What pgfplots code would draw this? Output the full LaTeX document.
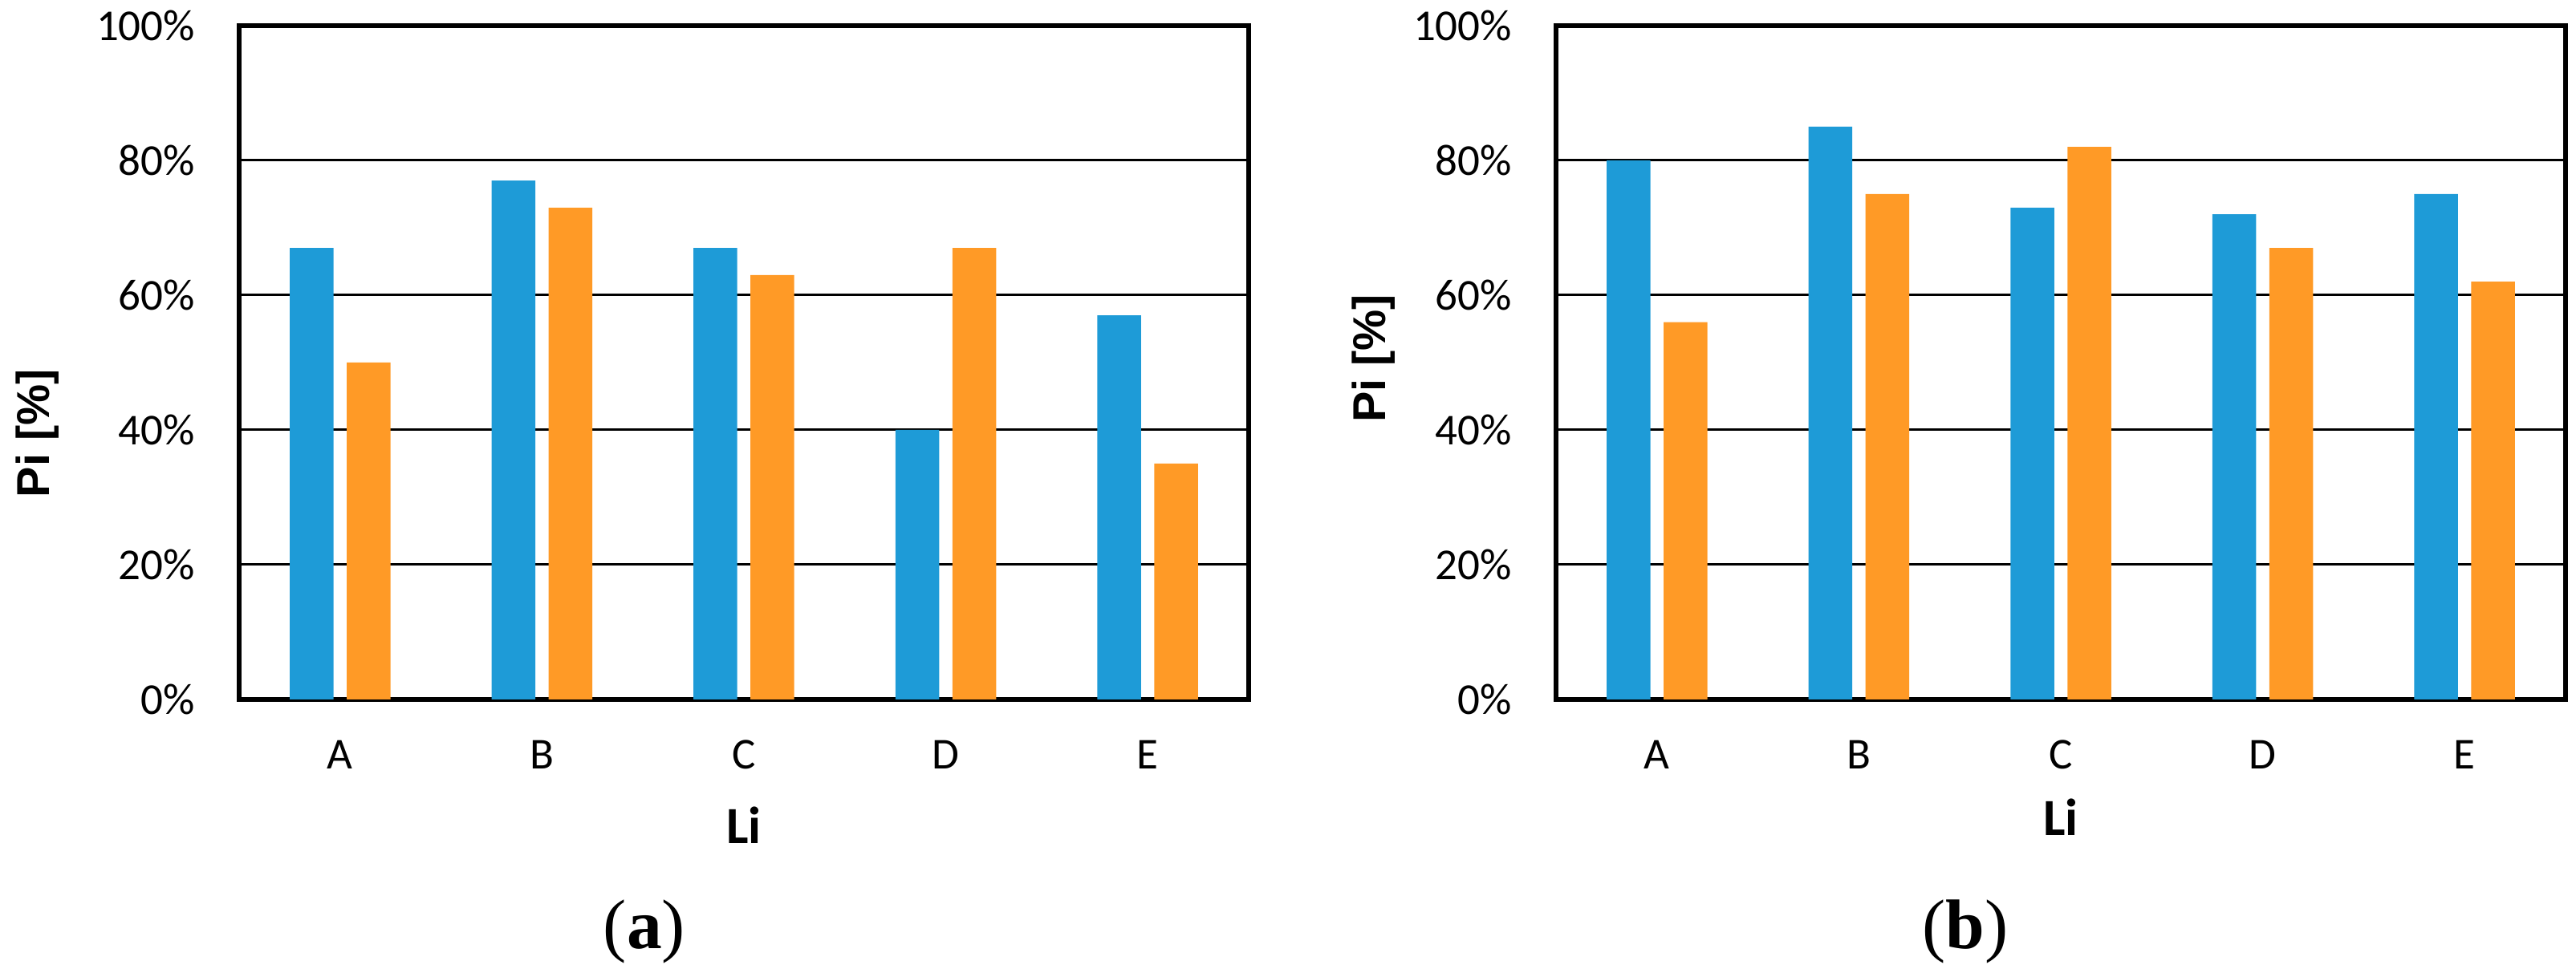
\documentclass[border=0pt]{standalone}
\usepackage{fontspec}
\setmainfont{Carlito}
\newfontfamily\arialfont{Liberation Sans}
\newfontfamily\timesfont{Liberation Serif}
\usepackage{pgfplots}
\pgfplotsset{compat=1.18}

\definecolor{barblue}{RGB}{30,155,215}
\definecolor{barorange}{RGB}{255,154,38}

\pgfplotsset{
  panel/.style={
    scale only axis, width=251.6pt, height=168pt,
    ymin=0, ymax=100, xmin=-0.5, xmax=4.5,
    ytick={0,20,...,100}, yticklabels={0\%,20\%,40\%,60\%,80\%,100\%},
    xtick={0,...,4}, xticklabels={A,B,C,D,E},
    major tick length=0pt,
    ymajorgrids, grid style={black, line width=0.6pt},
    axis line style={black, line width=1.2pt},
    tick label style={font=\fontsize{11}{13}\selectfont, inner sep=0pt},
    yticklabel style={anchor=east, xshift=-10.8pt},
    xticklabel style={anchor=base, yshift=-17.4pt},
    xlabel={Li},
    xlabel style={font=\fontsize{13}{15}\selectfont\bfseries, anchor=base, inner sep=0pt},
    ylabel={Pi [\%]},
    ylabel style={font=\arialfont\fontsize{11.5}{13}\selectfont\bfseries, anchor=center, inner sep=0pt},
  },
  bluebars/.style={ybar, bar width=10.9pt, bar shift=-7.1pt, fill=barblue, draw=none},
  orangebars/.style={ybar, bar width=10.9pt, bar shift=7.1pt, fill=barorange, draw=none},
}

\begin{document}
\begin{tikzpicture}
\useasboundingbox (0,0) rectangle (642pt,242.6pt);

% (a)
\begin{axis}[panel, at={(59.6pt,68.2pt)}, anchor=south west,
    xlabel style={at={([yshift=-36pt]axis description cs:0.5,0)}},
    ylabel style={at={([xshift=-50.2pt]axis description cs:0,0.395)}}]
  \addplot[bluebars] coordinates {(0,67) (1,77) (2,67) (3,40) (4,57)};
  \addplot[orangebars] coordinates {(0,50) (1,73) (2,63) (3,67) (4,35)};
\end{axis}

% (b)
\begin{axis}[panel, at={(387.8pt,68.2pt)}, anchor=south west,
    xlabel style={at={([yshift=-34pt]axis description cs:0.5,0)}},
    ylabel style={at={([xshift=-45.4pt]axis description cs:0,0.506)}}]
  \addplot[bluebars] coordinates {(0,80) (1,85) (2,73) (3,72) (4,75)};
  \addplot[orangebars] coordinates {(0,56) (1,75) (2,82) (3,67) (4,62)};
\end{axis}

\node[font=\timesfont\fontsize{17.5}{20}\selectfont, anchor=base, inner sep=0pt] at (160.6pt,6pt) {(\textbf{a})};
\node[font=\timesfont\fontsize{17.5}{20}\selectfont, anchor=base, inner sep=0pt] at (489.8pt,6pt) {(\textbf{b})};
\end{tikzpicture}
\end{document}
